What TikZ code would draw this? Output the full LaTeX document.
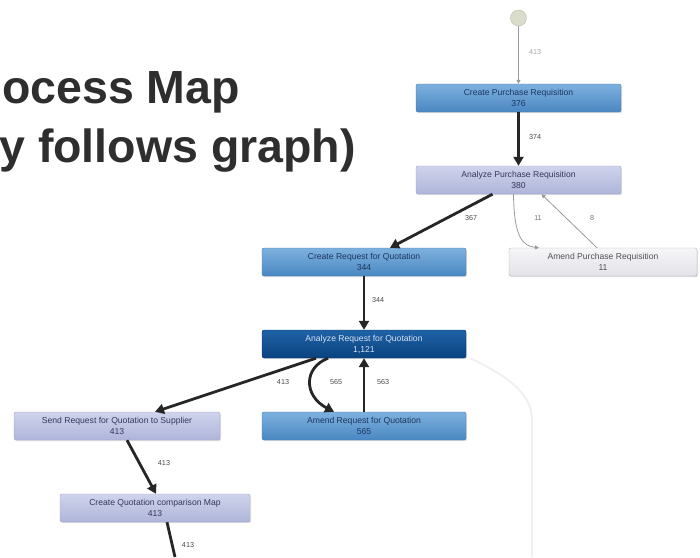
\documentclass[tikz,border=0pt]{standalone}
\usepackage{fontspec}
\setmainfont{Liberation Sans}
\usetikzlibrary{arrows.meta,shadows}

% palette
\definecolor{titlegray}{HTML}{2E2E2E}
\definecolor{heavyedge}{HTML}{262626}
\definecolor{lightedge}{HTML}{9A9A9A}
\definecolor{labelgray}{HTML}{4A4A4A}
\definecolor{thinlabel}{HTML}{7A7A7A}
\definecolor{startlabel}{HTML}{A8A8A8}
\definecolor{ghostedge}{HTML}{F0F0F0}
\definecolor{startfill}{HTML}{D9DCCB}
\definecolor{startline}{HTML}{B9BDA8}
\definecolor{blueTop}{HTML}{7DB1DE}\definecolor{blueBot}{HTML}{4A87C2}
\definecolor{blueLine}{HTML}{4479AE}\definecolor{blueText}{HTML}{1E3560}
\definecolor{lavTop}{HTML}{CFD3EC}\definecolor{lavBot}{HTML}{AFB5DA}
\definecolor{lavLine}{HTML}{9DA3C8}\definecolor{lavText}{HTML}{35385C}
\definecolor{darkTop}{HTML}{1E62A6}\definecolor{darkBot}{HTML}{0B4380}
\definecolor{darkLine}{HTML}{0A3A70}\definecolor{darkText}{HTML}{D6E2F2}
\definecolor{paleTop}{HTML}{F6F6F8}\definecolor{paleBot}{HTML}{E2E2E8}
\definecolor{paleLine}{HTML}{B0B0B8}\definecolor{paleText}{HTML}{50505A}

\tikzset{
  act/.style={rounded corners=2pt, minimum height=28pt, inner sep=0pt,
    align=center, font=\fontsize{8.6}{11}\selectfont,
    drop shadow={opacity=0.25, shadow xshift=1pt, shadow yshift=-1.2pt}},
  actblue/.style={act, top color=blueTop, bottom color=blueBot,
    draw=blueLine, text=blueText},
  actlav/.style={act, top color=lavTop, bottom color=lavBot,
    draw=lavLine, text=lavText},
  actdark/.style={act, top color=darkTop, bottom color=darkBot,
    draw=darkLine, text=darkText},
  actpale/.style={act, top color=paleTop, bottom color=paleBot,
    draw=paleLine, text=paleText},
  heavy/.style={draw=heavyedge, line width=2.8pt,
    -{Triangle[length=9pt,width=10pt]}},
  light/.style={draw=lightedge, line width=0.8pt,
    -{Triangle[length=4pt,width=4pt]}},
  elabel/.style={font=\fontsize{7.2}{8}\selectfont, text=labelgray},
  title/.style={font=\fontsize{46.5}{52}\selectfont\bfseries, text=titlegray,
    anchor=base east, inner sep=0pt}
}

\begin{document}
\begin{tikzpicture}[x=1pt,y=-1pt]
\useasboundingbox (0,0) rectangle (700,557);

% title
\node[title] (t1) at (240,103) {ocess Map};
\node[title] (t2) at (356,162) {y follows graph)};

% start marker
\node[circle, minimum size=16pt, inner sep=0pt, fill=startfill, draw=startline] (start) at (518.5,18) {};

% activities
\node[actblue, minimum width=205pt] (cpr)  at (518.5,98)  {Create Purchase Requisition\\376};
\node[actlav,  minimum width=205pt] (apr)  at (518.5,180) {Analyze Purchase Requisition\\380};
\node[actblue, minimum width=204pt] (crfq) at (364,262)   {Create Request for Quotation\\344};
\node[actpale, minimum width=188pt] (ampr) at (603,262)   {Amend Purchase Requisition\\11};
\node[actdark, minimum width=204pt] (arfq) at (364,344)   {Analyze Request for Quotation\\1,121};
\node[actblue, minimum width=204pt] (amrfq) at (364,426)  {Amend Request for Quotation\\565};
\node[actlav,  minimum width=206pt] (send) at (117,426)   {Send Request for Quotation to Supplier\\413};
\node[actlav,  minimum width=190pt] (cqcm) at (155,508)   {Create Quotation comparison Map\\413};

% free ends leaving the visible area
\coordinate (down1) at (175,557);
\coordinate (down2) at (532,557);

% connectors
\draw[light] (start) -- (cpr.north);
\node[elabel, text=startlabel] (l0) at (535,52) {413};

\draw[heavy] (cpr.south) -- (apr.north);
\node[elabel] (l1) at (535,137) {374};

\draw[heavy] ([xshift=-26pt]apr.south) -- ([xshift=26pt]crfq.north);
\node[elabel] (l2) at (471,218) {367};

\draw[light] ([xshift=-5pt]apr.south) .. controls (514,236) and (522,246) .. ([xshift=-64pt]ampr.north);
\node[elabel, text=thinlabel] (l3) at (538,218) {11};

\draw[light] ([xshift=-6pt]ampr.north) -- ([xshift=23pt]apr.south);
\node[elabel, text=thinlabel] (l4) at (592,218) {8};

\draw[heavy] (crfq.south) -- (arfq.north);
\node[elabel] (l5) at (378,300) {344};

\draw[heavy] ([xshift=-48pt]arfq.south) -- ([xshift=38pt]send.north);
\node[elabel] (l6) at (283,382) {413};

\draw[heavy] ([xshift=-36pt]arfq.south) .. controls (303,368) and (304,396) .. ([xshift=-30pt]amrfq.north);
\node[elabel] (l7) at (336,382) {565};

\draw[heavy] (amrfq.north) -- (arfq.south);
\node[elabel] (l8) at (383,382) {563};

\draw[heavy] ([xshift=10pt]send.south) -- ([xshift=1pt]cqcm.north);
\node[elabel] (l9) at (164,463) {413};

\draw[heavy, -] ([xshift=12pt]cqcm.south) -- (down1);
\node[elabel] (l10) at (188,545) {413};

\draw[draw=ghostedge, line width=2pt] ([xshift=4pt]arfq.south east) .. controls (505,375) and (532,392) .. (532,420) -- (down2);

\end{tikzpicture}
\end{document}
